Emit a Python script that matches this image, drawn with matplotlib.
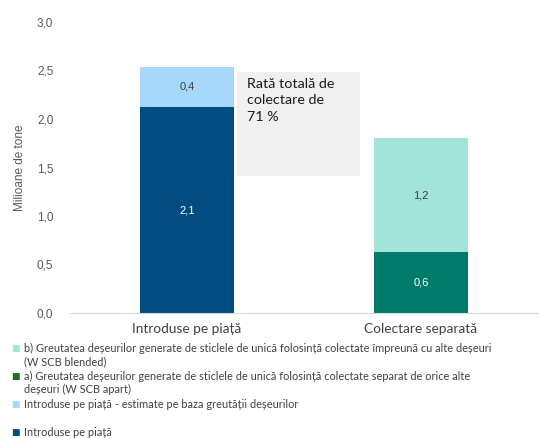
import matplotlib.pyplot as plt
from matplotlib.patches import Rectangle

categories = ['Introduse pe piață', 'Colectare separată']
# bottom segment / top segment per bar (milioane de tone)
bottom_vals = [2.12, 0.63]
top_vals = [0.42, 1.17]
bottom_labels = ['2,1', '0,6']
top_labels = ['0,4', '1,2']
bottom_colors = ['#004b7f', '#007a6b']
top_colors = ['#a5d8fb', '#a2e4da']
bottom_text = ['white', 'white']
top_text = ['#404040', '#404040']

yticks = [0, 0.5, 1.0, 1.5, 2.0, 2.5, 3.0]
ytick_labels = ['0,0', '0,5', '1,0', '1,5', '2,0', '2,5', '3,0']

legend_items = [
    ('#a2e4da', 'b) Greutatea deșeurilor generate de sticlele de unică folosință colectate împreună cu alte deșeuri\n(W SCB blended)'),
    ('#1a6e2e', 'a) Greutatea deșeurilor generate de sticlele de unică folosință colectate separat de orice alte\ndeșeuri (W SCB apart)'),
    ('#a5d8fb', 'Introduse pe piață - estimate pe baza greutății deșeurilor'),
    ('#004b7f', 'Introduse pe piață'),
]
legend_y = [349, 377, 405, 433]

W, H = 540, 438
fig = plt.figure(figsize=(W / 100, H / 100), dpi=100)
ax = fig.add_axes([70 / W, 1 - 313 / H, 468 / W, 291 / H])

x = range(len(categories))
ax.bar(x, bottom_vals, width=0.40, color=bottom_colors)
ax.bar(x, top_vals, width=0.40, bottom=bottom_vals, color=top_colors)

for i in x:
    ax.text(i, bottom_vals[i] / 2, bottom_labels[i], ha='center', va='center',
            color=bottom_text[i], fontsize=8, family='Liberation Sans')
    ax.text(i, bottom_vals[i] + top_vals[i] / 2, top_labels[i], ha='center', va='center',
            color=top_text[i], fontsize=8, family='Liberation Sans')

ax.set_xlim(-0.5, 1.5)
ax.set_ylim(0, 3.0)
ax.set_yticks(yticks)
ax.set_yticklabels(ytick_labels, family='Liberation Sans', fontsize=8.5, color='#595959')
ax.set_xticks(list(x))
ax.set_xticklabels(categories, fontsize=9.8, color='#404040', family='Lato')
ax.tick_params(axis='y', length=0, pad=12)
ax.tick_params(axis='x', length=0, pad=7)
for s in ['top', 'right', 'left']:
    ax.spines[s].set_visible(False)
ax.spines['bottom'].set_color('#d9d9d9')
ax.set_ylabel('Milioane de tone', fontsize=8.5, color='#595959', family='Liberation Sans', labelpad=8)

# annotation box (pixel placement)
fig.patches.append(Rectangle((237 / W, 1 - 176 / H), 123 / W, 104 / H, transform=fig.transFigure,
                             facecolor='#f0f0f0', edgecolor='none', zorder=0))
fig.text(247 / W, 1 - 78 / H, 'Rată totală de\ncolectare de\n71 %', ha='left', va='top', fontsize=10.3,
         family='Lato', color='#1a1a1a', linespacing=1.45)

for (c, lab), yy in zip(legend_items, legend_y):
    fig.text(11 / W, 1 - yy / H, '■', color=c, fontsize=6.5, va='center', ha='left', family='DejaVu Sans')
    fig.text(24 / W, 1 - (yy - 6) / H, lab, fontsize=7.9, va='top', ha='left',
             color='#404040', family='Lato', linespacing=1.2)

fig.savefig('out.png', dpi=100)
